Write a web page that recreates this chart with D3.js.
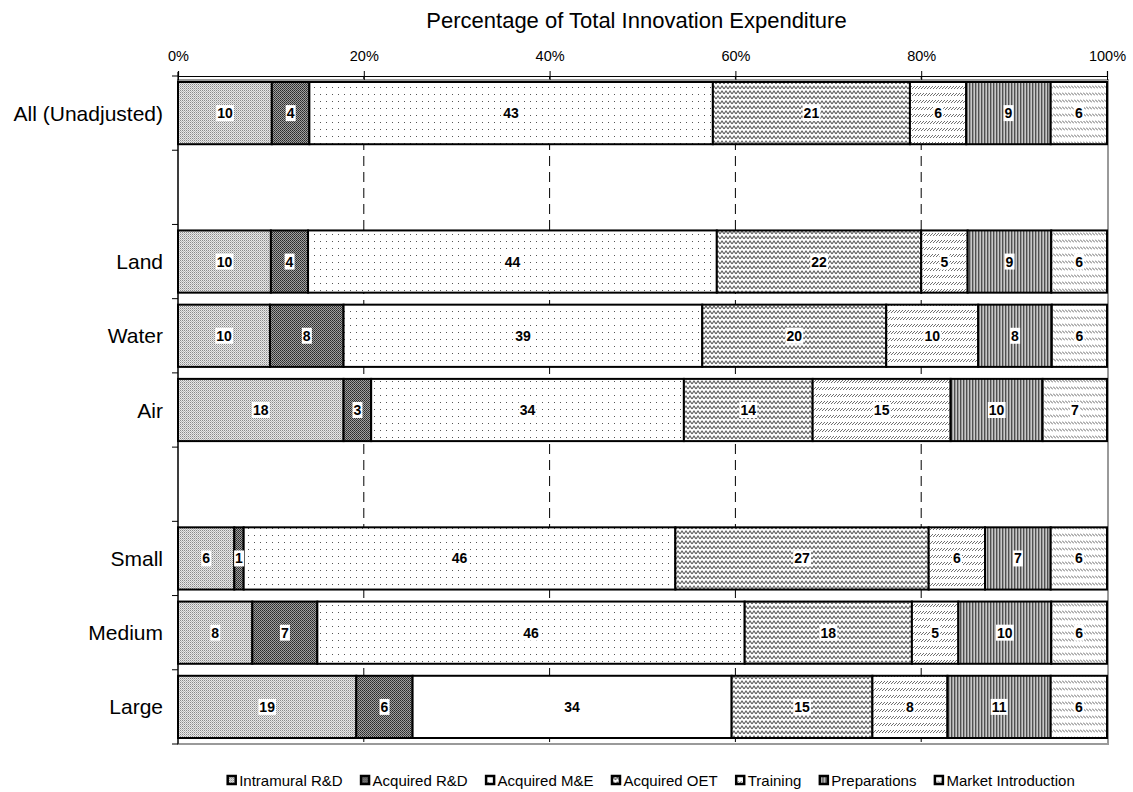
<!DOCTYPE html>
<html>
<head>
<meta charset="utf-8">
<script src="https://cdn.jsdelivr.net/npm/d3@7"></script>
<style>
  body { margin: 0; background: #fff; }
  svg { display: block; font-family: Arial, "Liberation Sans", sans-serif; }
</style>
</head>
<body>
<svg id="chart" width="1133" height="792"></svg>
<script>
// Rows of the chart; empty strings are spacer rows between the groups.
const categories = ["All (Unadjusted)", "", "Land", "Water", "Air", "", "Small", "Medium", "Large"];
const seriesNames = ["Intramural R&D", "Acquired R&D", "Acquired M&E", "Acquired OET", "Training", "Preparations", "Market Introduction"];

// Share of innovation expenditure (%) per row, one array per expenditure type.
const intramuralRD = [10, null, 10, 10, 18, null, 6, 8, 19];
const acquiredRD   = [4,  null, 4,  8,  3,  null, 1, 7, 6];
const acquiredME   = [43, null, 44, 39, 34, null, 46, 46, 34];
const acquiredOET  = [21, null, 22, 20, 14, null, 27, 18, 15];
const training     = [6,  null, 5,  10, 15, null, 6, 5, 8];
const preparations = [9,  null, 9,  8,  10, null, 7, 10, 11];
const marketIntro  = [6,  null, 6,  6,  7,  null, 6, 6, 6];

const tickValues = [0, 0.2, 0.4, 0.6, 0.8, 1];
const titleText = "Percentage of Total Innovation Expenditure";

const seriesValues = [intramuralRD, acquiredRD, acquiredME, acquiredOET, training, preparations, marketIntro];

const svg = d3.select("#chart");
const plotLeft = 178, plotRight = 1107, plotTop = 76, plotBottom = 744;

const x = d3.scaleLinear().domain([0, 1]).range([plotLeft, plotRight]);
const rows = d3.scaleBand().domain(d3.range(categories.length)).range([plotTop, plotBottom]).padding(0);
const barInset = 6;

// ---------- fill patterns ----------
const defs = svg.append("defs");
function pattern(id, w, h, draw) {
  const p = defs.append("pattern").attr("id", id).attr("patternUnits", "userSpaceOnUse")
    .attr("width", w).attr("height", h);
  draw(p);
}
pattern("p0", 2, 2, p => {
  p.append("rect").attr("width", 2).attr("height", 2).attr("fill", "#e8e8e8");
  p.append("rect").attr("width", 1).attr("height", 1).attr("fill", "#8a8a8a");
  p.append("rect").attr("x", 1).attr("y", 1).attr("width", 1).attr("height", 1).attr("fill", "#b8b8b8");
});
pattern("p1", 2, 2, p => {
  p.append("rect").attr("width", 2).attr("height", 2).attr("fill", "#a0a0a0");
  p.append("rect").attr("width", 1).attr("height", 1).attr("fill", "#2a2a2a");
  p.append("rect").attr("x", 1).attr("y", 1).attr("width", 1).attr("height", 1).attr("fill", "#404040");
});
pattern("p2", 6, 7, p => {
  p.append("rect").attr("width", 6).attr("height", 7).attr("fill", "#fff");
  p.append("rect").attr("x", 2).attr("y", 3).attr("width", 1).attr("height", 1).attr("fill", "#555");
});
pattern("p3", 4, 5, p => {
  p.append("rect").attr("width", 4).attr("height", 5).attr("fill", "#fff");
  p.append("path").attr("d", "M0,4 L2,1 L4,4").attr("fill", "none").attr("stroke", "#5e5e5e").attr("stroke-width", 1.1);
});
pattern("p4", 3, 7, p => {
  p.append("rect").attr("width", 3).attr("height", 7).attr("fill", "#fff");
  p.append("path").attr("d", "M0,5 L3,2").attr("fill", "none").attr("stroke", "#707070").attr("stroke-width", 1);
});
pattern("p5", 3, 1, p => {
  p.append("rect").attr("width", 1).attr("height", 1).attr("fill", "#505050");
  p.append("rect").attr("x", 1).attr("width", 1).attr("height", 1).attr("fill", "#9a9a9a");
  p.append("rect").attr("x", 2).attr("width", 1).attr("height", 1).attr("fill", "#c8c8c8");
});
pattern("p6", 3, 7, p => {
  p.append("rect").attr("width", 3).attr("height", 7).attr("fill", "#fff");
  p.append("path").attr("d", "M0,1.5 L3,4.5").attr("fill", "none").attr("stroke", "#666").attr("stroke-width", 1);
});

function fillFor(seriesIndex, rowIndex) {
  // the Large row draws its machinery segment without texture
  if (categories[rowIndex] === "Large" && seriesIndex === 2) return "#fff";
  return `url(#p${seriesIndex})`;
}

// ---------- title ----------
svg.append("text")
  .attr("x", (plotLeft + plotRight) / 2 - 6).attr("y", 28)
  .attr("text-anchor", "middle").attr("font-size", 22).attr("fill", "#000")
  .text(titleText);

// ---------- gridlines (behind the bars) ----------
svg.append("g").selectAll("line")
  .data(tickValues.filter(t => t > 0 && t < 1))
  .join("line")
  .attr("x1", d => x(d)).attr("x2", d => x(d))
  .attr("y1", plotTop).attr("y2", plotBottom)
  .attr("stroke", "#000").attr("stroke-width", 1).attr("stroke-dasharray", "10,6");

// plot border
svg.append("rect")
  .attr("x", plotLeft).attr("y", plotTop + 4).attr("width", plotRight - plotLeft + 1).attr("height", plotBottom - plotTop - 4)
  .attr("fill", "none").attr("stroke", "#9a9a9a").attr("stroke-width", 2);

// ---------- bars ----------
const stackedRows = categories.map((cat, i) => {
  const vals = seriesValues.map(s => s[i]);
  if (vals.some(v => v == null)) return null;
  const total = d3.sum(vals);
  let acc = 0;
  return vals.map((v, k) => {
    const seg = { row: i, series: k, value: v, x0: acc / total, x1: (acc + v) / total };
    acc += v;
    return seg;
  });
}).filter(Boolean);

const segments = stackedRows.flat();
const barG = svg.append("g");
barG.selectAll("rect")
  .data(segments)
  .join("rect")
  .attr("x", d => x(d.x0))
  .attr("y", d => rows(d.row) + barInset)
  .attr("width", d => x(d.x1) - x(d.x0))
  .attr("height", rows.bandwidth() - 2 * barInset)
  .attr("fill", d => fillFor(d.series, d.row))
  .attr("stroke", "#000").attr("stroke-width", 2);

// value labels on white boxes
const labelG = svg.append("g");
segments.forEach(d => {
  const cx = (x(d.x0) + x(d.x1)) / 2;
  const cy = rows(d.row) + rows.bandwidth() / 2;
  const g = labelG.append("g");
  const box = g.append("rect").attr("fill", "#fff");
  const t = g.append("text")
    .attr("x", cx).attr("y", cy).attr("dy", "0.36em")
    .attr("text-anchor", "middle").attr("font-size", 14).attr("font-weight", "bold").attr("fill", "#000")
    .text(d.value);
  const bb = t.node().getBBox();
  box.attr("x", bb.x - 1).attr("y", cy - 8).attr("width", bb.width + 2).attr("height", 16);
});

// ---------- top axis ----------
const axisTop = d3.axisTop(x).tickValues(tickValues).tickFormat(d3.format(".0%")).tickSizeOuter(0).tickSize(5).tickPadding(10);
const ax = svg.append("g").attr("transform", `translate(0,${plotTop})`).call(axisTop);
ax.select(".domain").attr("stroke", "#000").attr("stroke-width", 1.2);
ax.selectAll(".tick line").attr("y1", 4).attr("y2", -5).attr("stroke", "#000");
ax.selectAll(".tick text").attr("font-size", 14.5).attr("font-family", "Arial, 'Liberation Sans', sans-serif").attr("fill", "#000");

// ---------- left axis ----------
svg.append("line").attr("x1", plotLeft).attr("x2", plotLeft).attr("y1", plotTop - 4).attr("y2", plotBottom)
  .attr("stroke", "#000").attr("stroke-width", 1.2);
const bounds = rows.domain().map(i => rows(i)).concat([plotBottom]);
svg.append("g").selectAll("line")
  .data(bounds)
  .join("line")
  .attr("x1", plotLeft - 6).attr("x2", plotLeft)
  .attr("y1", d => d).attr("y2", d => d)
  .attr("stroke", "#000").attr("stroke-width", 1);

svg.append("g").selectAll("text")
  .data(categories.map((c, i) => ({ c, i })).filter(d => d.c))
  .join("text")
  .attr("x", plotLeft - 15).attr("y", d => rows(d.i) + rows.bandwidth() / 2).attr("dy", "0.36em")
  .attr("text-anchor", "end").attr("font-size", 21).attr("fill", "#000")
  .text(d => d.c);

// ---------- legend ----------
const legend = svg.append("g");
let lx = 0;
seriesNames.forEach((name, k) => {
  const g = legend.append("g");
  g.append("rect").attr("x", 0.5).attr("y", -10).attr("width", 8).attr("height", 8)
    .attr("fill", `url(#p${k})`).attr("stroke", "#000").attr("stroke-width", 2.5);
  const t = g.append("text").attr("x", 12).attr("y", 0).attr("font-size", 15).attr("fill", "#000").text(name);
  const w = t.node().getComputedTextLength();
  g.attr("transform", `translate(${lx},0)`);
  lx += 12 + w + 18;
});
const legendWidth = lx - 18;
legend.attr("transform", `translate(${651 - legendWidth / 2},786)`);
</script>
</body>
</html>
